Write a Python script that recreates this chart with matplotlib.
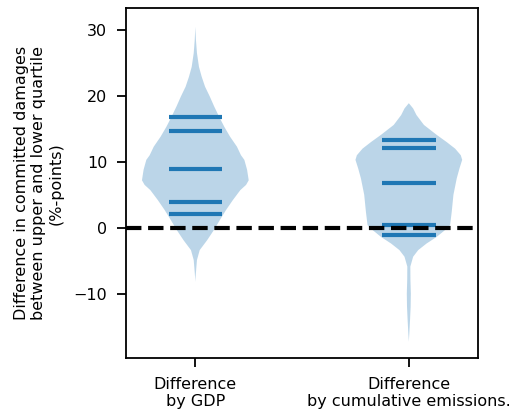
import numpy as np
import matplotlib
matplotlib.use('Agg')
import matplotlib.pyplot as plt

# profile of each violin (value, relative density)
gdp_y = [30.5, 28.5, 26.5, 24.4, 22.9, 21.4, 19.9, 18.4, 16.8, 15.3, 13.8,
         12.3, 11.0, 10.3, 8.8, 7.2, 6.5, 5.7, 4.2, 2.7, 1.2, -0.35, -1.9,
         -3.4, -4.9, -6.4, -7.4, -8.2]
gdp_d = [0, 0.6, 1.6, 3.6, 6.3, 9.6, 14.3, 18.6, 23.6, 28.6, 34.3,
         41, 45, 48.3, 51, 52.6, 50, 44.3, 37, 30.3, 24.3, 18.3, 11.6,
         4.3, 1.6, 0.8, 0.3, 0]
gdp_q = [2.12, 3.89, 8.89, 14.65, 16.86]

em_y = [18.9, 18.1, 17.1, 15.6, 14.1, 13.0, 12.0, 11.0, 10.3, 9.0, 7.5,
        5.0, 2.4, 0.4, -0.35, -1.4, -2.4, -3.4, -4.4, -5.9, -7.9, -10.0,
        -12.0, -14.0, -16.0, -17.3]
em_d = [0, 4.3, 7.6, 15, 27.6, 37.6, 46, 51.6, 53, 50.3, 47.6,
        44.3, 42.6, 41, 36, 27.6, 17.6, 9.3, 4.3, 1.5, 1.6, 2.0,
        1.8, 1.2, 0.5, 0]
em_q = [-1.11, 0.40, 6.86, 12.17, 13.28]

labels = ['Difference\nby GDP', 'Difference\nby cumulative emissions.']

def stats(y, d, q):
    y = np.asarray(y, float)[::-1]
    d = np.asarray(d, float)[::-1]
    return {'coords': y, 'vals': d, 'mean': q[2], 'median': q[2],
            'min': y.min(), 'max': y.max(), 'quantiles': np.asarray(q)}

vpstats = [stats(gdp_y, gdp_d, gdp_q), stats(em_y, em_d, em_q)]

fig = plt.figure(figsize=(5.12, 4.16), dpi=100)
ax = fig.add_subplot(111)
fig.subplots_adjust(left=0.246, right=0.934, top=0.980, bottom=0.139)

parts = ax.violin(vpstats, positions=[1, 2], widths=0.5,
                  showmeans=False, showextrema=False, showmedians=False)
for b in parts['bodies']:
    b.set_facecolor('#1f77b4')
    b.set_edgecolor('none')
    b.set_alpha(0.3)
parts['cquantiles'].set_color('#1f77b4')
parts['cquantiles'].set_linewidth(3)

ax.axhline(0, color='black', lw=3, ls='--', zorder=5)

ax.set_xlim(0.675, 2.325)
ax.set_ylim(-19.8, 33.3)
ax.set_yticks([-10, 0, 10, 20, 30])
ax.set_xticks([1, 2])
ax.set_xticklabels(labels, fontsize=11.5)
ax.tick_params(axis='y', labelsize=11.5)
ax.tick_params(length=6.5, width=1.3, pad=7)
for s in ax.spines.values():
    s.set_linewidth(1.3)
ax.set_ylabel('Difference in committed damages\nbetween upper and lower quartile\n(%-points)',
              fontsize=11.5, labelpad=7)

fig.savefig('out.png', dpi=100)
